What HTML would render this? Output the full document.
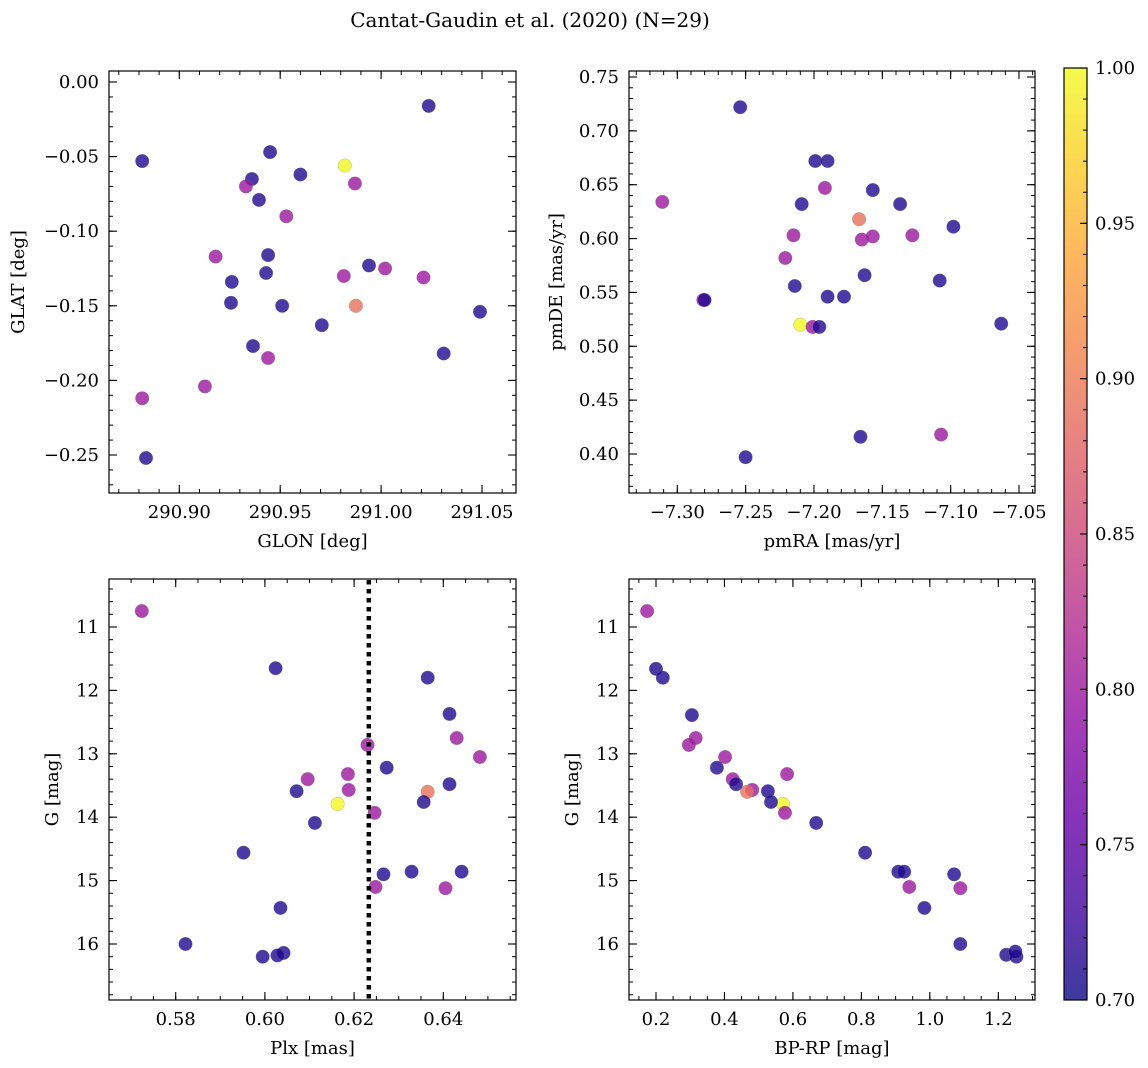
<!DOCTYPE html>
<html><head><meta charset="utf-8"><style>
html,body{margin:0;padding:0;background:#fff;}
svg{display:block;font-family:"DejaVu Serif","Liberation Serif",serif;}
</style></head><body>
<svg id="fig" width="1148" height="1068" viewBox="0 0 1148 1068" xmlns="http://www.w3.org/2000/svg">
<defs>
<linearGradient id="plasma" x1="0" y1="1" x2="0" y2="0">
<stop offset="0" stop-color="#0d0887"/><stop offset="0.1" stop-color="#41049d"/><stop offset="0.2" stop-color="#6a00a8"/><stop offset="0.3" stop-color="#8f0da4"/><stop offset="0.4" stop-color="#b12a90"/><stop offset="0.5" stop-color="#cc4778"/><stop offset="0.6" stop-color="#e16462"/><stop offset="0.7" stop-color="#f2844b"/><stop offset="0.8" stop-color="#fca636"/><stop offset="0.9" stop-color="#fcce25"/><stop offset="1" stop-color="#f0f921"/>
</linearGradient>
</defs>
<text x="530" y="27" font-size="20" text-anchor="middle">Cantat-Gaudin et al. (2020) (N=29)</text>
<g id="cbar">
<rect x="1064" y="68" width="23" height="932" fill="url(#plasma)" opacity="0.8" stroke="none"/>
</g>
</svg>
<script>
// ---- data ----
const tlGlon=[290.8816,291.0236,290.982,290.936,290.933,290.945,290.960,290.987,290.9395,290.953,290.918,290.944,290.926,290.943,290.9815,290.994,291.002,291.021,290.9875,290.9256,290.951,290.9706,291.049,290.9365,290.944,291.031,290.9127,290.8816,290.8835];
const tlGlat=[-0.053,-0.016,-0.056,-0.065,-0.070,-0.047,-0.062,-0.068,-0.079,-0.090,-0.117,-0.116,-0.134,-0.128,-0.130,-0.123,-0.125,-0.131,-0.150,-0.148,-0.150,-0.163,-0.154,-0.177,-0.185,-0.182,-0.204,-0.212,-0.252];
const tlProb=[0.71,0.71,1.0,0.71,0.80,0.71,0.71,0.80,0.71,0.80,0.80,0.71,0.71,0.71,0.80,0.71,0.80,0.80,0.89,0.71,0.71,0.71,0.71,0.71,0.80,0.71,0.80,0.80,0.71];

const trPmra=[-7.254,-7.199,-7.190,-7.192,-7.311,-7.209,-7.157,-7.137,-7.167,-7.098,-7.215,-7.165,-7.157,-7.128,-7.221,-7.163,-7.214,-7.108,-7.190,-7.178,-7.281,-7.280,-7.063,-7.210,-7.201,-7.196,-7.166,-7.107,-7.250];
const trPmde=[0.722,0.672,0.672,0.647,0.634,0.632,0.645,0.632,0.618,0.611,0.603,0.599,0.602,0.603,0.582,0.566,0.556,0.561,0.546,0.546,0.543,0.543,0.521,0.520,0.518,0.518,0.416,0.418,0.397];
const trProb=[0.71,0.71,0.71,0.80,0.80,0.71,0.71,0.71,0.89,0.71,0.80,0.80,0.80,0.80,0.80,0.71,0.71,0.71,0.71,0.71,0.80,0.71,0.71,1.0,0.80,0.71,0.71,0.80,0.71];

const blPlx=[0.5724,0.6024,0.6365,0.6414,0.6430,0.6230,0.6482,0.6273,0.6186,0.6096,0.6414,0.6071,0.6188,0.6365,0.6163,0.6356,0.6246,0.6112,0.5952,0.6266,0.6329,0.6441,0.6248,0.6405,0.6035,0.5822,0.6042,0.6028,0.5995];
const blG=[10.75,11.65,11.80,12.37,12.75,12.86,13.05,13.22,13.32,13.40,13.48,13.59,13.57,13.60,13.79,13.76,13.93,14.09,14.56,14.90,14.86,14.86,15.10,15.12,15.43,16.00,16.14,16.18,16.20];
const blProb=[0.80,0.71,0.71,0.71,0.80,0.80,0.80,0.71,0.80,0.80,0.71,0.71,0.80,0.89,1.0,0.71,0.80,0.71,0.71,0.71,0.71,0.71,0.80,0.80,0.71,0.71,0.71,0.71,0.71];
const plxMean=0.6233;

const brBprp=[0.174,0.200,0.220,0.305,0.316,0.296,0.402,0.378,0.583,0.424,0.434,0.527,0.481,0.466,0.571,0.536,0.577,0.668,0.811,0.908,0.925,1.071,0.940,1.089,0.984,1.089,1.223,1.253,1.250];
const brG=[10.75,11.66,11.80,12.39,12.75,12.86,13.05,13.22,13.32,13.40,13.48,13.59,13.57,13.60,13.79,13.76,13.93,14.09,14.56,14.86,14.86,14.90,15.10,15.12,15.43,16.00,16.17,16.20,16.12];
const brProb=[0.80,0.71,0.71,0.71,0.80,0.80,0.80,0.71,0.80,0.80,0.71,0.71,0.80,0.89,1.0,0.71,0.80,0.71,0.71,0.71,0.71,0.71,0.80,0.80,0.71,0.71,0.71,0.71,0.71];

const tlXTicks=[290.90,290.95,291.00,291.05];
const tlYTicks=[0.00,-0.05,-0.10,-0.15,-0.20,-0.25];
const trXTicks=[-7.30,-7.25,-7.20,-7.15,-7.10,-7.05];
const trYTicks=[0.40,0.45,0.50,0.55,0.60,0.65,0.70,0.75];
const blXTicks=[0.58,0.60,0.62,0.64];
const gTicks=[11,12,13,14,15,16];
const brXTicks=[0.2,0.4,0.6,0.8,1.0,1.2];
const cbTicks=[0.70,0.75,0.80,0.85,0.90,0.95,1.00];

// ---- helpers ----
const NS="http://www.w3.org/2000/svg";
const svg=document.getElementById('fig');
const FS=18;
function mk(tag,attrs,parent){const e=document.createElementNS(NS,tag);for(const k in attrs)e.setAttribute(k,attrs[k]);(parent||svg).appendChild(e);return e;}
function lin(v0,p0,v1,p1){return v=>p0+(v-v0)*(p1-p0)/(v1-v0);}
const stops=[[13,8,135],[65,4,157],[106,0,168],[143,13,164],[177,42,144],[204,71,120],[225,100,98],[242,132,75],[252,166,54],[252,206,37],[240,249,33]];
function plasma(c){let t=Math.max(0,Math.min(1,(c-0.7)/0.3))*10;const i=Math.min(9,Math.floor(t)),f=t-i;const a=stops[i],b=stops[i+1];return 'rgb('+a.map((x,k)=>Math.round(x+(b[k]-x)*f)).join(',')+')';}
function fmt(v,d){const s=Math.abs(v).toFixed(d);return (v<-1e-9?'\u2212':'')+s;}

function panel(name,box,xs,ys,xt,yt,xd,yd,xMinorStep,yMinorStep,xlab,ylab,xv,yv,cv,ylabX){
  const g=mk('g',{});
  
  
  const [L,T,R,B]=box;
  const pts=mk('g',{},g);
  
  
  for(let i=0;i<xv.length;i++){
    const c=mk('circle',{cx:xs(xv[i]).toFixed(1),cy:ys(yv[i]).toFixed(1),r:6.8,fill:plasma(cv[i]),'fill-opacity':0.8,stroke:'#777','stroke-width':0.4,'stroke-opacity':0.6},pts);
    
    
  }
  const fr=mk('rect',{x:L,y:T,width:R-L,height:B-T,fill:'none',stroke:'#000','stroke-width':1.2},g);
  
  
  const xAx=mk('g',{},g);
  
  
  const xlo=Math.min(xt[0],xt[xt.length-1])-2*(xt[1]-xt[0]), xhi=Math.max(xt[0],xt[xt.length-1])+2*Math.abs(xt[1]-xt[0]);
  for(let v=Math.ceil(xlo/xMinorStep)*xMinorStep;v<=xhi;v+=xMinorStep){const p=xs(v);if(p<L+0.5||p>R-0.5)continue;mk('line',{x1:p,x2:p,y1:B,y2:B-4,stroke:'#000','stroke-width':1},xAx);mk('line',{x1:p,x2:p,y1:T,y2:T+4,stroke:'#000','stroke-width':1},xAx);}
  xt.forEach(v=>{const p=xs(v);mk('line',{x1:p,x2:p,y1:B,y2:B-8,stroke:'#000','stroke-width':1.1},xAx);mk('line',{x1:p,x2:p,y1:T,y2:T+8,stroke:'#000','stroke-width':1.1},xAx);
    const t=mk('text',{x:p,y:B+25,'font-size':FS,'text-anchor':'middle'},xAx);t.textContent=fmt(v,xd);
    });
  const xl=mk('text',{x:(L+R)/2,y:B+54,'font-size':FS,'text-anchor':'middle'},g);xl.textContent=xlab;
  
  const yAx=mk('g',{},g);
  
  
  const st=Math.abs(yt[1]-yt[0]);const ylo=Math.min(...yt)-2*st,yhi=Math.max(...yt)+2*st;
  for(let v=Math.ceil(ylo/yMinorStep)*yMinorStep;v<=yhi;v+=yMinorStep){const p=ys(v);if(p<T+0.5||p>B-0.5)continue;mk('line',{x1:L,x2:L+4,y1:p,y2:p,stroke:'#000','stroke-width':1},yAx);mk('line',{x1:R,x2:R-4,y1:p,y2:p,stroke:'#000','stroke-width':1},yAx);}
  yt.forEach(v=>{const p=ys(v);mk('line',{x1:L,x2:L+8,y1:p,y2:p,stroke:'#000','stroke-width':1.1},yAx);mk('line',{x1:R,x2:R-8,y1:p,y2:p,stroke:'#000','stroke-width':1.1},yAx);
    const t=mk('text',{x:L-10,y:p+6,'font-size':FS,'text-anchor':'end'},yAx);t.textContent=fmt(v,yd);
    });
  const yl=mk('text',{x:ylabX,y:(T+B)/2,'font-size':FS,'text-anchor':'middle',transform:'rotate(-90 '+ylabX+' '+(T+B)/2+')'},g);yl.textContent=ylab;
  
  return g;
}

const tlx=lin(290.90,179.3,291.05,482), tly=lin(0.0,82,-0.25,455);
panel('glon-glat-panel',[109,71,516,493],tlx,tly,tlXTicks,tlYTicks,2,2,0.01,0.01,'GLON [deg]','GLAT [deg]',tlGlon,tlGlat,tlProb,24);
const trx=lin(-7.30,677.3,-7.05,1019), tr_y=lin(0.40,454,0.75,77);
panel('proper-motion-panel',[629,71,1035,493],trx,tr_y,trXTicks,trYTicks,2,2,0.01,0.01,'pmRA [mas/yr]','pmDE [mas/yr]',trPmra,trPmde,trProb,562);
const blx=lin(0.58,175.7,0.64,443.3), gy=lin(11,627,16,944);
const bl=panel('parallax-panel',[109,579,516,1000],blx,gy,blXTicks,gTicks,2,0,0.005,0.2,'Plx [mas]','G [mag]',blPlx,blG,blProb,58);
const dl=mk('line',{x1:blx(plxMean),x2:blx(plxMean),y1:580,y2:999,stroke:'#000','stroke-width':4.5,'stroke-dasharray':'4.5,4.5'},bl);


const brx=lin(0.2,656,1.2,998.3);
panel('cmd-panel',[629,579,1035,1000],brx,gy,brXTicks,gTicks,1,0,0.05,0.2,'BP-RP [mag]','G [mag]',brBprp,brG,brProb,578);

const cb=document.getElementById('cbar');
mk('rect',{x:1064,y:68,width:23,height:932,fill:'none',stroke:'#000','stroke-width':1.2},cb);
const cby=lin(0.70,1000,1.00,68);
for(let v=0.70;v<=1.0001;v+=0.01){const p=cby(v);mk('line',{x1:1087,x2:1083,y1:p,y2:p,stroke:'#000','stroke-width':1},cb);}
cbTicks.forEach(v=>{const p=cby(v);mk('line',{x1:1087,x2:1080,y1:p,y2:p,stroke:'#000','stroke-width':1.1},cb);
  const t=mk('text',{x:1095,y:p+6,'font-size':FS},cb);t.textContent=v.toFixed(2);
  });
</script>
</body></html>
